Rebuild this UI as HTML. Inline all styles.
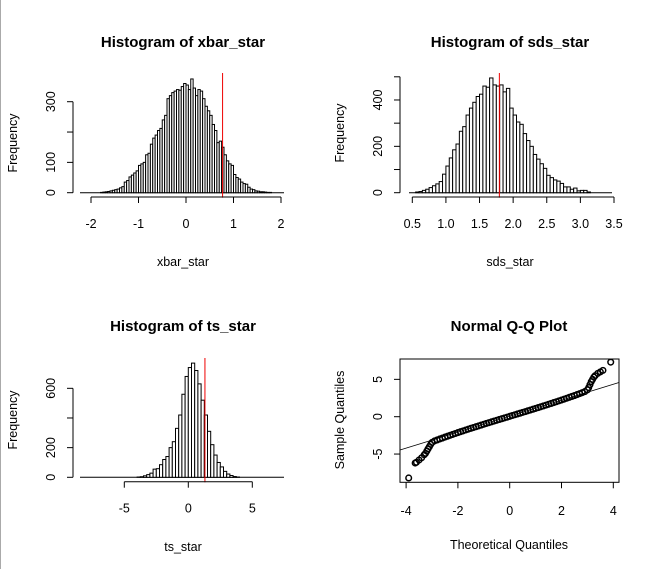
<!DOCTYPE html>
<html><head><meta charset="utf-8"><style>
body{margin:0;background:#fff;}
svg{display:block;font-family:"Liberation Sans",sans-serif;}
</style></head><body>
<svg id="c" width="654" height="569" xmlns="http://www.w3.org/2000/svg">
<line x1="0.5" y1="0" x2="0.5" y2="569" stroke="#aaa"/>
</svg>
<script>
// ---- data ----
const xbarStart = -1.8, xbarBin = 0.05;
const xbarCounts = [1,2,3,4,6,8,10,12,16,20,35,40,52,58,65,72,90,95,100,125,130,160,180,190,205,212,240,255,310,320,330,335,340,338,350,360,
355,340,375,345,320,340,335,310,285,270,255,225,205,165,170,150,125,105,95,90,60,50,45,35,30,28,18,12,10,6,5,3,3,2,1,1];
const xbarTicks = [-2,-1,0,1,2];
const xbarYTicks = [0,100,200,300];
const xbarYLabels = ["0","100","","300"];
const xbarRef = 0.77;

const sdsStart = 0.55, sdsBin = 0.05;
const sdsCounts = [3,5,10,15,22,30,38,48,80,115,150,185,210,265,285,335,365,390,415,425,460,455,495,465,460,465,435,450,365,335,305,295,255,225,200,165,145,125,105,75,65,55,50,40,25,25,15,20,8,10,10,3];
const sdsTicks = [0.5,1.0,1.5,2.0,2.5,3.0,3.5];
const sdsYTicks = [0,100,200,300,400,500];
const sdsYLabels = ["0","","200","","400",""];
const sdsRef = 1.795;

const tsStart = -4, tsBin = 0.25;
const tsCounts = [2,4,10,18,28,55,58,85,120,140,200,240,330,420,560,680,740,770,720,630,520,420,310,220,150,100,70,40,22,12,5,2];
const tsTicks = [-5,0,5];
const tsYTicks = [0,200,400,600];
const tsYLabels = ["0","200","","600"];
const tsRef = 1.3;

const qqTheo = [-3.9,-3.65,-3.6,-3.5,-3.4,-3.3,-3.25,-3.2,-3.15,-3.1,-3.05,-3.0,
-2.9,-2.8,-2.7,-2.6,-2.5,-2.4,-2.3,-2.2,-2.1,-2.0,-1.9,-1.8,-1.7,-1.6,-1.5,-1.4,-1.3,-1.2,-1.1,-1.0,-0.9,-0.8,-0.7,-0.6,-0.5,-0.4,-0.3,-0.2,-0.1,0,
0.1,0.2,0.3,0.4,0.5,0.6,0.7,0.8,0.9,1.0,1.1,1.2,1.3,1.4,1.5,1.6,1.7,1.8,1.9,2.0,2.1,2.2,2.3,2.4,2.5,2.6,2.7,2.8,2.9,
3.0,3.05,3.1,3.15,3.2,3.25,3.3,3.4,3.5,3.6,3.9];
const qqSample = [-8.2,-6.2,-6.1,-5.8,-5.5,-5.1,-4.9,-4.6,-4.3,-4.0,-3.7,-3.45,
-3.24,-3.11,-2.98,-2.86,-2.73,-2.61,-2.49,-2.37,-2.25,-2.13,-2.01,-1.90,-1.78,-1.67,-1.56,-1.45,-1.34,-1.23,-1.12,-1.01,-0.90,-0.80,-0.69,-0.58,-0.48,-0.37,-0.27,-0.16,-0.06,0.05,
0.16,0.26,0.37,0.47,0.58,0.68,0.79,0.89,1.00,1.11,1.22,1.33,1.44,1.55,1.66,1.77,1.89,2.00,2.12,2.23,2.35,2.47,2.59,2.71,2.83,2.96,3.09,3.22,3.36,
3.6,3.9,4.3,4.7,5.0,5.3,5.5,5.8,6.0,6.2,7.3];
const qqXTicks = [-4,-2,0,2,4];
const qqYTicks = [-5,0,5];
const qqLine = [0.07, 1.07]; // intercept, slope

// ---- drawing ----
const svg = document.getElementById('c');
const NS = 'http://www.w3.org/2000/svg';
function mk(tag, attrs, parent){
  const e = document.createElementNS(NS, tag);
  for (const k in attrs) e.setAttribute(k, attrs[k]);
  (parent||svg).appendChild(e);
  return e;
}
function txt(x,y,s,size,opts,parent){
  const t = mk('text',{x:x,y:y,'font-size':size,'text-anchor':'middle',fill:'#000'},parent);
  if(opts&&opts.bold) t.setAttribute('font-weight','bold');
  if(opts&&opts.rot) t.setAttribute('transform','rotate(-90 '+x+' '+y+')');
  t.textContent = s;
  return t;
}

function hist(cfg){
  const g = mk('g',{});
  
  
  const X = v => cfg.x0px + (v - cfg.x0v) * cfg.xs;
  const Y = v => cfg.y0px - v * cfg.ys;
  const bl = mk('line',{x1:cfg.blx1,x2:cfg.blx2,y1:cfg.y0px,y2:cfg.y0px,stroke:'#000','stroke-width':1},g);
  
  
  cfg.counts.forEach((c,i)=>{
    const a = cfg.start + i*cfg.bin;
    const r = mk('rect',{x:X(a),y:Y(c),width:cfg.bin*cfg.xs,height:c*cfg.ys,fill:'#fff',stroke:'#000','stroke-width':1},g);
    
    
  });
  const rl = mk('line',{x1:X(cfg.ref),x2:X(cfg.ref),y1:cfg.refTop,y2:cfg.y0px+5,stroke:'#e00','stroke-width':1},g);
  
  
  const xa = mk('g',{},g);
  
  
  const t0 = cfg.xticks[0], t1 = cfg.xticks[cfg.xticks.length-1];
  mk('line',{x1:X(t0),x2:X(t1),y1:cfg.xaxY,y2:cfg.xaxY,stroke:'#000'},xa);
  cfg.xticks.forEach(t=>{
    mk('line',{x1:X(t),x2:X(t),y1:cfg.xaxY,y2:cfg.xaxY+6,stroke:'#000'},xa);
    const l = txt(X(t),cfg.xaxY+31,cfg.fmt?cfg.fmt(t):String(t),12.5,null,xa);
    
    
  });
  const ya = mk('g',{},g);
  
  
  const yt = cfg.yticks;
  mk('line',{x1:cfg.yaxX,x2:cfg.yaxX,y1:Y(yt[0]),y2:Y(yt[yt.length-1]),stroke:'#000'},ya);
  yt.forEach((t,i)=>{
    mk('line',{x1:cfg.yaxX-6,x2:cfg.yaxX,y1:Y(t),y2:Y(t),stroke:'#000'},ya);
    if(cfg.ylabels[i]){
      const l = txt(cfg.yaxX-18,Y(t),cfg.ylabels[i],12.5,{rot:true},ya);
      
      
    }
  });
  const ti = txt(cfg.cx,cfg.titleY,cfg.title,15,{bold:true},g);
  
  
  const xl = txt(cfg.cx,cfg.xlabY,cfg.xlab,12.5,null,g);
  
  
  const yl = txt(cfg.ylabX,cfg.ylabY,'Frequency',12.5,{rot:true},g);
  
  
}

hist({name:'xbar-histogram',counts:xbarCounts,start:xbarStart,bin:xbarBin,x0v:0,x0px:186,xs:47.5,y0px:192.7,ys:0.3033,
  blx1:80,blx2:284,ref:xbarRef,refTop:73,xticks:xbarTicks,xaxY:197,yticks:xbarYTicks,ylabels:xbarYLabels,yaxX:73,
  cx:183,titleY:47,title:'Histogram of xbar_star',xlab:'xbar_star',xlabY:266,ylabX:17,ylabY:143});
hist({name:'sds-histogram',counts:sdsCounts,start:sdsStart,bin:sdsBin,x0v:0.5,x0px:412.3,xs:67.23,y0px:192.7,ys:0.2318,
  blx1:409,blx2:612,ref:sdsRef,refTop:73,xticks:sdsTicks,xaxY:197,yticks:sdsYTicks,ylabels:sdsYLabels,yaxX:400,
  fmt:t=>t.toFixed(1),cx:510,titleY:47,title:'Histogram of sds_star',xlab:'sds_star',xlabY:266,ylabX:344,ylabY:133});
hist({name:'ts-histogram',counts:tsCounts,start:tsStart,bin:tsBin,x0v:0,x0px:188.3,xs:12.8,y0px:477.3,ys:0.1483,
  blx1:80,blx2:284,ref:tsRef,refTop:358,xticks:tsTicks,xaxY:481.7,yticks:tsYTicks,ylabels:tsYLabels,yaxX:73,
  cx:183,titleY:331,title:'Histogram of ts_star',xlab:'ts_star',xlabY:551,ylabX:17,ylabY:420});

(function(){
  const g = mk('g',{});
  
  
  const X = v => 509.7 + v*25.9;
  const Y = v => 416.7 - v*7.47;
  const bx1=400,bx2=619,by1=359,by2=482.3;
  const box = mk('rect',{x:bx1,y:by1,width:bx2-bx1,height:by2-by1,fill:'none',stroke:'#000'},g);
  
  
  const xv1=(bx1-509.7)/25.9, xv2=(bx2-509.7)/25.9;
  const ql = mk('line',{x1:X(xv1),y1:Y(qqLine[0]+qqLine[1]*xv1),x2:X(xv2),y2:Y(qqLine[0]+qqLine[1]*xv2),stroke:'#000','stroke-width':0.8},g);
  
  
  qqTheo.forEach((t,i)=>{
    const c = mk('circle',{cx:X(t),cy:Y(qqSample[i]),r:2.8,fill:'none',stroke:'#000','stroke-width':1.5},g);
    
    
  });
  const xa = mk('g',{},g);
  
  
  qqXTicks.forEach(t=>{
    mk('line',{x1:X(t),x2:X(t),y1:by2,y2:by2+6,stroke:'#000'},xa);
    const l = txt(X(t),515,String(t),12.5,null,xa);
    
    
  });
  const ya = mk('g',{},g);
  
  
  qqYTicks.forEach(t=>{
    mk('line',{x1:bx1-6,x2:bx1,y1:Y(t),y2:Y(t),stroke:'#000'},ya);
    const l = txt(bx1-18,Y(t),String(t),12.5,{rot:true},ya);
    
    
  });
  const ti = txt(509,331,'Normal Q-Q Plot',15,{bold:true},g);
  
  
  const xl = txt(509,549,'Theoretical Quantiles',12.5,null,g);
  
  
  const yl = txt(344,420,'Sample Quantiles',12.5,{rot:true},g);
  
  
})();
</script>
</body></html>
